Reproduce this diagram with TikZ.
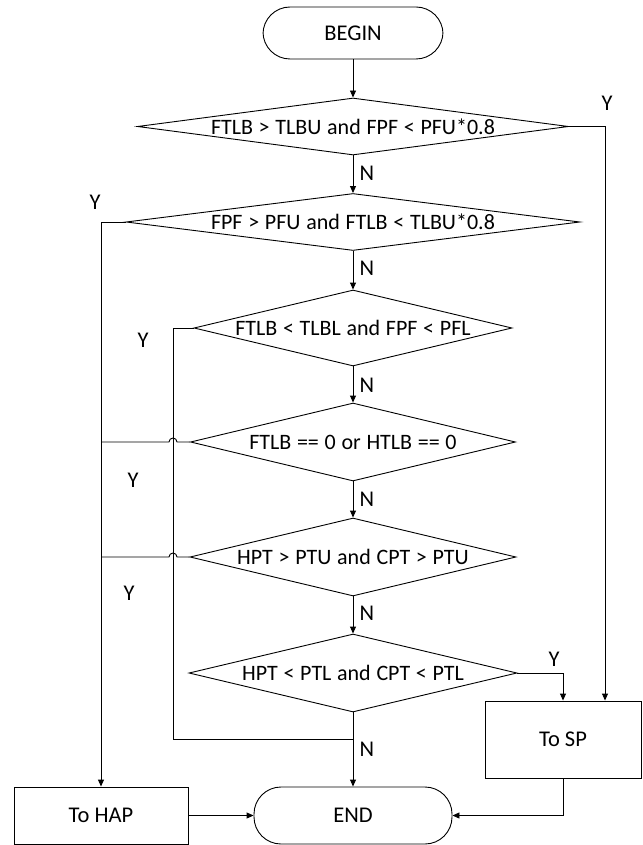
\documentclass[tikz,border=0pt]{standalone}
\usepackage{fontspec}
\setmainfont{Carlito}
\usetikzlibrary{shapes.geometric,arrows.meta}
\newcommand\dtightfont{\fontsize{22}{26}\selectfont\spaceskip 0.26em\relax}
\begin{document}
\begin{tikzpicture}[x=1pt,y=-1pt,
  every node/.style={font=\fontsize{22.5}{26}\selectfont},
  line/.style={line width=0.9pt,draw=black},
  arr/.style={line, -{Triangle[length=7pt,width=6pt]}},
  dia/.style={diamond,draw,line width=0.9pt,inner sep=0pt},
  dtext/.style={font=\dtightfont},
  term/.style={rectangle,draw,line width=0.9pt,rounded corners=27pt},
  proc/.style={rectangle,draw,line width=0.9pt},
  lab/.style={inner sep=0pt}
]
\path[use as bounding box] (0,0) rectangle (642,845);

\node[term,minimum width=180pt,minimum height=52pt] (begin) at (353,33) {BEGIN};
\node[dia,minimum width=431pt,minimum height=57pt] (d1) at (353,126.5) {};
\node[dia,minimum width=454pt,minimum height=57pt] (d2) at (353,222) {};
\node[dia,minimum width=318pt,minimum height=76pt] (d3) at (353,328) {};
\node[dia,minimum width=325pt,minimum height=78pt] (d4) at (353,442) {};
\node[dia,minimum width=326pt,minimum height=78pt] (d5) at (353,557) {};
\node[dia,minimum width=328pt,minimum height=78pt] (d6) at (353,673) {};
\node[dtext] (t1) at (d1.center) {FTLB > TLBU and FPF < PFU*0.8};
\node[dtext] (t2) at (d2.center) {FPF > PFU and FTLB < TLBU*0.8};
\node[dtext] (t3) at (d3.center) {FTLB < TLBL and FPF < PFL};
\node[dtext] (t4) at (d4.center) {FTLB == 0 or HTLB == 0};
\node[dtext] (t5) at (d5.center) {HPT > PTU and CPT > PTU};
\node[dtext] (t6) at (d6.center) {HPT < PTL and CPT < PTL};
\node[proc,minimum width=156pt,minimum height=77pt] (tosp) at (563,739.5) {To SP};
\node[proc,minimum width=174pt,minimum height=57pt] (tohap) at (101,815.5) {To HAP};
\node[term,minimum width=198pt,minimum height=57pt] (end) at (353,815.5) {END};

\coordinate (c1) at (605,126.5);
\coordinate (c2) at (101,222);
\coordinate (c3a) at (173,328);
\coordinate (c3b) at (173,739);
\coordinate (c3c) at (353,739);
\coordinate (c6) at (563,673);
\coordinate (cs) at (563,815.5);
\coordinate (h4) at (177,442);
\coordinate (h5) at (177,557);

% main spine
\draw[arr] (begin.south) -- (d1.north);
\draw[arr] (d1.south) -- (d2.north);
\draw[arr] (d2.south) -- (d3.north);
\draw[arr] (d3.south) -- (d4.north);
\draw[arr] (d4.south) -- (d5.north);
\draw[arr] (d5.south) -- (d6.north);
\draw[arr] (d6.south) -- (end.north);

% Y branches
\draw[arr] (d1.east) -- (c1) -- (c1 |- tosp.north);
\draw[arr] (d2.west) -- (c2) -- (c2 |- tohap.north);
\draw[line] (d3.west) -- (c3a) -- (c3b) -- (c3c);
\draw[line] (d4.west) -- (h4) arc[start angle=0,end angle=180,radius=4pt] -- (c2 |- d4.west);
\draw[line] (d5.west) -- (h5) arc[start angle=0,end angle=180,radius=4pt] -- (c2 |- d5.west);
\draw[arr] (d6.east) -- (c6) -- (c6 |- tosp.north);
\draw[arr] (tosp.south) -- (cs) -- (end.east);
\draw[arr] (tohap.east) -- (end.west);

% labels
\node[lab] (n1) at (367,173) {N};
\node[lab] (n2) at (367,268) {N};
\node[lab] (n3) at (367,385) {N};
\node[lab] (n4) at (367,499) {N};
\node[lab] (n5) at (367,613) {N};
\node[lab] (n6) at (367,749) {N};
\node[lab] (y1) at (607,103) {Y};
\node[lab] (y2) at (95,202) {Y};
\node[lab] (y3) at (143,340) {Y};
\node[lab] (y4) at (133,480) {Y};
\node[lab] (y5) at (129,593) {Y};
\node[lab] (y6) at (554,659) {Y};
\end{tikzpicture}
\end{document}
